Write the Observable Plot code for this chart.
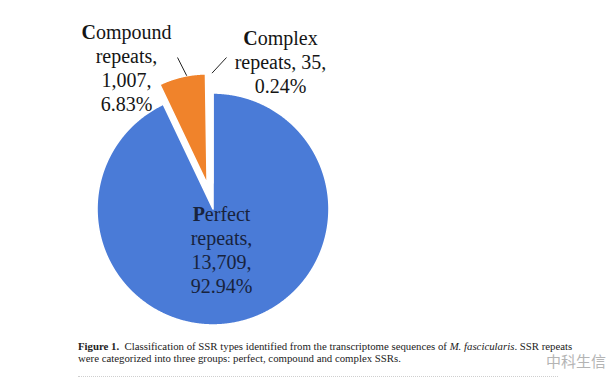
<!DOCTYPE html>
<html><head><meta charset="utf-8">
<script src="https://cdn.jsdelivr.net/npm/d3@7"></script>
<script src="https://cdn.jsdelivr.net/npm/@observablehq/plot@0.6"></script>
<style>
html,body{margin:0;padding:0;background:#fff;}
#wrap{position:relative;width:606px;height:385px;overflow:hidden;background:#fff;}
#chart{position:absolute;left:0;top:0;}
#caption{position:absolute;left:78px;top:340px;font-family:"Liberation Serif","Times New Roman",serif;font-size:10.8px;line-height:12px;color:#222;white-space:nowrap;}
#mark{position:absolute;left:546px;top:352px;font-family:"Noto Sans CJK SC",sans-serif;font-size:15px;line-height:18px;color:#b4b4b4;white-space:nowrap;}
#dots{position:absolute;left:78px;top:376px;width:480px;border-top:1px dotted #cfcfcf;}
</style></head>
<body>
<div id="wrap">
<div id="chart"></div>
<div id="caption"><b>Figure 1.</b>&nbsp; Classification of SSR types identified from the transcriptome sequences of <i>M. fascicularis</i>. SSR repeats<br>were categorized into three groups: perfect, compound and complex SSRs.</div>
<div id="mark">中科生信</div>
<div id="dots"></div>
</div>
<script>
// ---- data ----
const categories = ["Perfect repeats", "Compound repeats", "Complex repeats"];
const counts = [13709, 1007, 35];
const sliceColors = ["#4a7bd7", "#f0832b", "#a5a5a5"];

// ---- layout ----
const W = 606, H = 335, CX = 212.5, CY = 208.5, R = 116;
const explode = [0, 0.223, 0.223];
const radiusFactor = [1, 0.948, 0.948];
const labelLayout = [
  {x: 221, y: 249, joinCount: false, color: "#18233d"},
  {x: 126, y: 67, joinCount: false, color: "#151515"},
  {x: 280, y: 61, joinCount: true, color: "#151515"}
];
const leaderStart = [null, {x: 177, y: 57, frac: 0.6}, {x: 226, y: 57, frac: 0.5}];
const px = x => (x - CX) / R, py = y => (CY - y) / R;

const total = d3.sum(counts);
const arcs = d3.pie().sort(null).value(d => d)(counts);
const fmt = d3.format(",");
const pctFmt = v => (v / total * 100).toFixed(2) + "%";

const slices = arcs.map((a, i) => {
  const mid = (a.startAngle + a.endAngle) / 2;
  const ox = explode[i] * Math.sin(mid), oy = explode[i] * Math.cos(mid);
  const r = radiusFactor[i];
  const poly = [{x: ox, y: oy}];
  const n = Math.max(2, Math.ceil((a.endAngle - a.startAngle) / 0.004));
  for (let k = 0; k <= n; k++) {
    const t = a.startAngle + (a.endAngle - a.startAngle) * k / n;
    poly.push({x: ox + r * Math.sin(t), y: oy + r * Math.cos(t)});
  }
  return {poly, a, ox, oy, r};
});

const labels = categories.map((c, i) => {
  const [w1, w2] = c.split(" ");
  const L = labelLayout[i];
  const lines = L.joinCount
    ? [w1, `${w2}, ${fmt(counts[i])},`, pctFmt(counts[i])]
    : [w1, `${w2},`, `${fmt(counts[i])},`, pctFmt(counts[i])];
  return {text: lines.join("\n"), x: px(L.x), y: py(L.y), color: L.color};
});

const leaders = [];
leaderStart.forEach((s, i) => {
  if (!s) return;
  const sl = slices[i];
  const t = sl.a.startAngle + (sl.a.endAngle - sl.a.startAngle) * s.frac;
  leaders.push({x1: px(s.x), y1: py(s.y), x2: sl.ox + sl.r * Math.sin(t), y2: sl.oy + sl.r * Math.cos(t)});
});

const marks = slices.map((s, i) => Plot.line(s.poly, {
  x: "x", y: "y", fill: sliceColors[i], stroke: "white", strokeWidth: 1.6, curve: "linear-closed"
}));
marks.push(Plot.link(leaders, {x1: "x1", y1: "y1", x2: "x2", y2: "y2", stroke: "#222", strokeWidth: 1}));
marks.push(Plot.text(labels, {
  x: "x", y: "y", text: "text", fill: "color", fontSize: 20, lineHeight: 1.2,
  fontFamily: "Liberation Serif, Times New Roman, serif"
}));

const svg = Plot.plot({
  width: W, height: H, margin: 0,
  x: {domain: [px(0), px(W)], axis: null},
  y: {domain: [py(H), py(0)], axis: null},
  color: {type: "identity"},
  style: {background: "transparent", overflow: "visible"},
  marks
});

const ns = "http://www.w3.org/2000/svg";
svg.querySelectorAll('g[aria-label="text"] text').forEach(t => {
  const first = t.querySelector("tspan") || t;
  const s = first.textContent;
  first.textContent = "";
  const b = document.createElementNS(ns, "tspan");
  b.setAttribute("font-weight", "bold");
  b.textContent = s[0];
  first.appendChild(b);
  first.appendChild(document.createTextNode(s.slice(1)));
});
document.getElementById("chart").appendChild(svg);
</script>
</body></html>
